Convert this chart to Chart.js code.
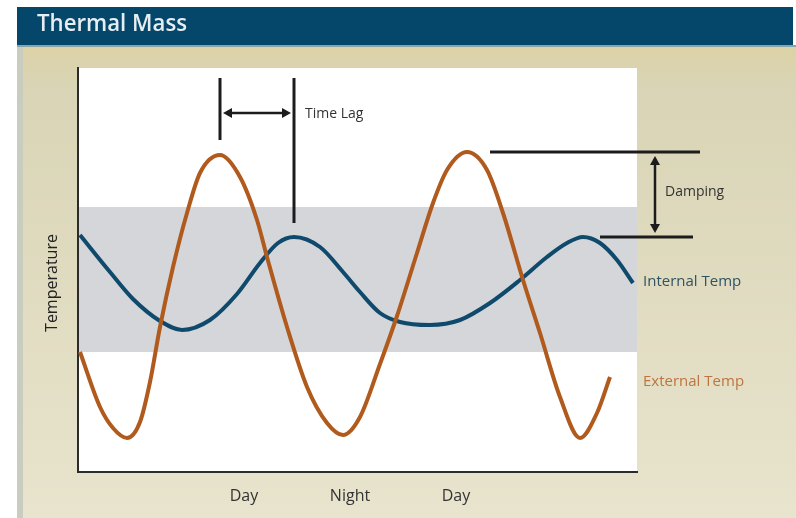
<!DOCTYPE html>
<html>
<head>
<meta charset="utf-8">
<title>Thermal Mass</title>
<script src="https://cdn.jsdelivr.net/npm/chart.js@4.4.1/dist/chart.umd.min.js"></script>
<style>
  html, body { margin: 0; padding: 0; background: #fff; overflow: hidden; }
  canvas { display: block; }
</style>
</head>
<body>
<canvas id="thermalChart" width="796" height="518"></canvas>
<script>
const chartTitle = 'Thermal Mass';
const yAxisTitle = 'Temperature';

// hours along the x axis, temperature in arbitrary degrees
const externalHours = [0.2, 2.2, 3.5, 4.9, 6.2, 7.2, 8.2, 9.5, 10.9, 12.2, 14.2, 16.2, 17.9, 18.9, 20.9, 22.9, 24.9, 26.5,
                       28.2, 30.2, 31.9, 33.9, 35.5, 36.9, 38.9, 40.9, 42.5, 44.5, 46.2, 48.2, 50.2, 51.9, 53.2];
const externalTemp  = [12.0, 6.5, 4.4, 3.4, 5.0, 9.0, 14.5, 20.5, 25.9, 29.9, 31.7, 29.5, 25.2, 21.5, 14.5, 8.5, 4.9, 3.7,
                       5.5, 10.8, 15.6, 21.9, 26.9, 30.2, 32.0, 30.2, 25.9, 19.2, 13.9, 7.5, 3.4, 5.9, 9.5];

const internalHours = [0.2, 3.2, 5.5, 8.2, 10.4, 13.2, 15.9, 18.2, 20.0, 21.6, 24.2, 26.5, 28.2, 30.2, 32.2, 35.2, 38.2,
                       41.2, 44.2, 46.9, 48.9, 50.5, 52.2, 53.9, 55.5];
const internalTemp  = [23.7, 20.0, 17.3, 15.1, 14.2, 15.2, 17.8, 20.9, 22.9, 23.5, 22.5, 20.0, 18.0, 15.9, 15.0, 14.7, 15.2,
                       16.9, 19.2, 21.5, 22.9, 23.5, 22.9, 21.2, 18.9];

const tickHours  = [16.6, 27.2, 37.8];
const tickLabels = ['Day', 'Night', 'Day'];

// grey comfort band
const bandLow = 12.0;
const bandHigh = 26.5;

function peakIndex(hours, temps, from, to) {
    let best = -1;
    hours.forEach((h, i) => {
        if (h >= from && h <= to && (best < 0 || temps[i] > temps[best])) best = i;
    });
    return best;
}

function arrowHead(ctx, x, y, dx, dy) {
    const len = 9, half = 5;
    ctx.beginPath();
    ctx.moveTo(x, y);
    ctx.lineTo(x - dx * len - dy * half, y - dy * len + dx * half);
    ctx.lineTo(x - dx * len + dy * half, y - dy * len - dx * half);
    ctx.closePath();
    ctx.fill();
}

function line(ctx, x1, y1, x2, y2) {
    ctx.beginPath();
    ctx.moveTo(x1, y1);
    ctx.lineTo(x2, y2);
    ctx.stroke();
}

const decorations = {
    id: 'decorations',
    beforeDraw(chart) {
        const ctx = chart.ctx;
        const { left, right, top, bottom } = chart.chartArea;
        const W = chart.width, H = chart.height;
        ctx.save();
        ctx.fillStyle = '#ffffff';
        ctx.fillRect(0, 0, W, H);

        const g = ctx.createLinearGradient(0, 47, 0, H);
        g.addColorStop(0, '#dcd2a6');
        g.addColorStop(0.08, '#d9d4b5');
        g.addColorStop(1, '#e8e4cd');
        ctx.fillStyle = g;
        ctx.fillRect(17, 45, W - 17, H - 45);
        ctx.fillStyle = '#c9cdbf';
        ctx.fillRect(17, 45, 6, H - 45);

        ctx.fillStyle = '#05466b';
        ctx.fillRect(17, 7, W - 20, 38);
        ctx.fillStyle = '#86a4aa';
        ctx.fillRect(17, 45, W - 17, 2);

        ctx.fillStyle = '#e6eef2';
        ctx.font = '600 24px "Open Sans"';
        ctx.textBaseline = 'alphabetic';
        ctx.textAlign = 'left';
        ctx.fillText(chartTitle, 37, 31, 150);

        ctx.fillStyle = '#ffffff';
        ctx.fillRect(left, top, right - left, bottom - top);

        const ys = chart.scales.y;
        const yHi = ys.getPixelForValue(bandHigh), yLo = ys.getPixelForValue(bandLow);
        ctx.fillStyle = '#d4d6da';
        ctx.fillRect(left, yHi, right - left, yLo - yHi);
        ctx.restore();
    },
    afterDraw(chart) {
        const ctx = chart.ctx;
        const xs = chart.scales.x, ys = chart.scales.y;
        const top = chart.chartArea.top;
        ctx.save();
        ctx.strokeStyle = '#1c1c1c';
        ctx.fillStyle = '#1c1c1c';
        ctx.lineWidth = 3;

        // time lag between first peaks
        const e1 = peakIndex(externalHours, externalTemp, 0, 24);
        const i1 = peakIndex(internalHours, internalTemp, 10, 30);
        const x1 = xs.getPixelForValue(externalHours[e1]);
        const x2 = xs.getPixelForValue(internalHours[i1]);
        line(ctx, x1, top + 10, x1, ys.getPixelForValue(externalTemp[e1]) - 15);
        line(ctx, x2, top + 10, x2, ys.getPixelForValue(internalTemp[i1]) - 14);
        const ay = top + 45;
        ctx.lineWidth = 2.5;
        line(ctx, x1 + 8, ay, x2 - 8, ay);
        arrowHead(ctx, x1 + 3, ay, -1, 0);
        arrowHead(ctx, x2 - 3, ay, 1, 0);

        // damping between second peaks
        const e2 = peakIndex(externalHours, externalTemp, 30, 56);
        const i2 = peakIndex(internalHours, internalTemp, 40, 56);
        const yA = ys.getPixelForValue(externalTemp[e2]);
        const yB = ys.getPixelForValue(internalTemp[i2]);
        ctx.lineWidth = 3;
        line(ctx, xs.getPixelForValue(externalHours[e2]) + 23, yA, 700, yA);
        line(ctx, xs.getPixelForValue(internalHours[i2]) + 17, yB, 693, yB);
        ctx.lineWidth = 2.5;
        line(ctx, 655, yA + 10, 655, yB - 10);
        arrowHead(ctx, 655, yA + 4, 0, -1);
        arrowHead(ctx, 655, yB - 4, 0, 1);

        // labels
        ctx.textBaseline = 'middle';
        ctx.textAlign = 'left';
        ctx.font = '14px "Open Sans"';
        ctx.fillStyle = '#333333';
        ctx.fillText('Time Lag', 305, 114, 72);
        ctx.fillText('Damping', 665, 192, 72);
        ctx.font = '15px "Open Sans"';
        ctx.fillStyle = '#2f5264';
        ctx.fillText('Internal Temp', 643, 282, 110);
        ctx.fillStyle = '#bd7440';
        ctx.fillText('External Temp', 643, 382, 114);

        ctx.fillStyle = '#222222';
        ctx.font = '16px "Open Sans"';
        ctx.translate(52, 283);
        ctx.rotate(-Math.PI / 2);
        ctx.textAlign = 'center';
        ctx.fillText(yAxisTitle, 0, 0, 118);
        ctx.restore();
    }
};

new Chart(document.getElementById('thermalChart'), {
    type: 'line',
    data: {
        datasets: [
            {
                label: 'External Temp',
                data: externalHours.map((h, i) => ({ x: h, y: externalTemp[i] })),
                borderColor: '#b05b1d',
                borderWidth: 4,
                pointRadius: 0,
                cubicInterpolationMode: 'monotone',
                fill: false
            },
            {
                label: 'Internal Temp',
                data: internalHours.map((h, i) => ({ x: h, y: internalTemp[i] })),
                borderColor: '#0f4a6c',
                borderWidth: 4,
                pointRadius: 0,
                cubicInterpolationMode: 'monotone',
                fill: false
            }
        ]
    },
    options: {
        responsive: false,
        animation: false,
        devicePixelRatio: 1,
        layout: { padding: { left: 78, top: 68, right: 159, bottom: 0 } },
        plugins: { legend: { display: false }, tooltip: { enabled: false } },
        scales: {
            x: {
                type: 'linear',
                min: 0,
                max: 55.9,
                grid: { display: false, drawTicks: false },
                border: { display: true, color: '#2b2b2b', width: 2 },
                afterBuildTicks: axis => { axis.ticks = tickHours.map(v => ({ value: v })); },
                ticks: {
                    callback: (v, i) => tickLabels[i],
                    font: { family: 'Open Sans', size: 16 },
                    color: '#333333',
                    padding: 15,
                    maxRotation: 0,
                    autoSkip: false
                },
                afterFit: axis => { axis.height = 46; }
            },
            y: {
                type: 'linear',
                min: 0,
                max: 40.4,
                grid: { display: false, drawTicks: false },
                border: { display: true, color: '#2b2b2b', width: 2 },
                ticks: { display: false },
                afterFit: axis => { axis.width = 0; }
            }
        }
    },
    plugins: [decorations]
});
</script>
</body>
</html>
